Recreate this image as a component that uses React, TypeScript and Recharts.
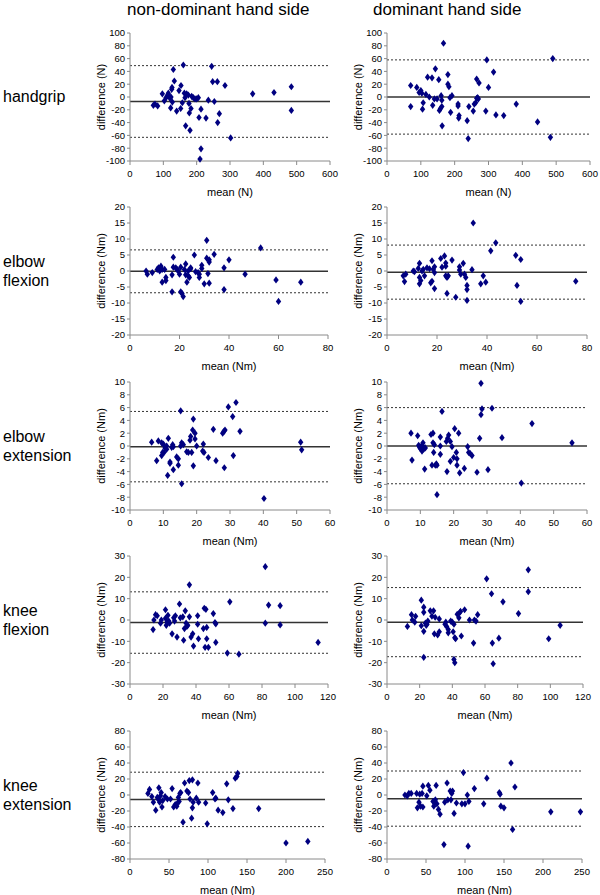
import React from 'react';
import { ScatterChart, Scatter, XAxis, YAxis, ReferenceLine } from 'recharts';

// [mean, difference] pairs
const handgripNonDom = [
  [70, -13], [75, -11], [83, -14], [97, 5], [103, -6], [108, -1], [112, 2], [115, 6], [118, 1], [120, -2],
  [123, 0], [122, -17], [125, 12], [126, 15], [127, -8], [130, 43], [133, 25], [140, -22], [147, 10], [153, 18],
  [152, -18], [157, -9], [160, 50], [163, 6], [165, -1], [167, -45], [170, 5], [175, 3], [177, -10], [178, -25],
  [180, -52], [183, -18], [185, 1], [190, -1], [195, -3], [200, -3], [205, -1], [207, -32], [210, -97], [213, -81],
  [213, -19], [228, -33], [235, -5], [245, 48], [248, 24], [253, -7], [262, 24], [263, -40], [268, -26], [285, 18],
  [302, -64], [368, 5], [432, 7], [484, 16], [484, -21],
];
const handgripDom = [
  [70, 18], [70, -15], [88, 15], [95, 7], [100, 10], [103, 6], [105, -19], [107, -9], [115, 4], [120, 31],
  [125, 0], [133, 30], [135, -13], [140, -3], [143, 44], [148, -3], [153, 27], [155, -21], [158, -18], [160, 2],
  [162, -5], [162, -15], [163, -45], [167, 84], [180, 35], [180, 20], [183, 16], [186, -1], [188, -24], [192, 2],
  [210, -11], [210, -14], [213, -29], [212, -33], [237, -37], [240, -65], [242, -15], [255, -22], [258, -11], [262, -9],
  [265, 28], [265, -2], [268, -1], [270, -3], [272, 22], [292, -22], [295, 58], [300, 15], [315, 39], [322, -28],
  [345, -29], [382, -11], [445, -39], [483, -63], [490, 60],
];
const elbowFlexNonDom = [
  [6.5, 0], [7, -1], [9, -0.5], [11, 0.5], [11.5, 1], [12, 0], [12.5, 1.5], [13, -3.5], [13, 0.5], [14, 0.5],
  [14.5, -3], [14.5, -2], [17, -6.5], [17, -1.2], [17.5, 4.3], [17.5, 1.2], [18.5, 1], [19, 0.5], [19.5, 0], [20, -1],
  [20.5, 1.2], [20.5, -6.5], [21, -7], [21.5, -8], [22, 0.5], [22.5, 2.2], [22.5, -1.2], [23, -3.5], [23.5, -1.5], [23.5, 0],
  [24, -2], [24.5, 0.7], [24.5, 1], [26, 5], [26.5, -0.2], [27.5, -0.5], [28, -2], [28, -1], [29, 1.8], [29, 0.8],
  [30, -4], [31, 9.6], [31, 4], [31.5, -0.8], [32, 3.5], [32, 2.8], [32, -3.8], [34, 5.2], [38, 1], [38, -5.8],
  [40, 3.5], [46.5, -1], [52.8, 7.2], [59, -2.8], [60, -9.5], [69, -3.5],
];
const elbowFlexDom = [
  [6.5, -1.5], [7, -3.3], [7.5, -1], [10.5, 0], [11, -0.2], [12.5, 0.8], [13, 2.4], [13, -2], [13, -4], [13.5, -3],
  [14, 0], [14.5, 0.5], [15, -1.5], [16, 1], [17, 0.7], [17.5, -3.7], [18, 3.2], [18, -3.2], [18.5, 0.5], [19, -0.5],
  [19, 1.3], [19, -5.5], [21.5, 3.9], [22, 1.2], [23, 4.7], [23.5, 2.5], [23.5, 1.5], [23.5, -1.5], [24, -7], [24, -2],
  [24.5, -1.5], [26, 3.4], [27.5, -8.2], [29, 1.3], [29, 0.3], [29.5, -1], [30.5, 2.4], [31, -1], [31.5, -2], [32, -4.5],
  [32, -5.8], [32, -9.2], [34.5, 15], [34, 0.4], [37.5, -4], [38.5, -1.5], [39.5, -3.5], [41.5, 6.3], [43.5, 8.8], [51.5, 4.9],
  [52, -4.5], [53.5, 3.6], [53.5, -9.5], [75.5, -3.2],
];
const elbowExtNonDom = [
  [6.5, 0.6], [8, -2.3], [8.5, 0.8], [9.5, 0.5], [9.5, -1.5], [9.8, -1], [10, 0.3], [10.2, -1], [10.5, -0.3], [11, 0],
  [11, -0.5], [11.3, -4.6], [11.5, 1.2], [12, -2.5], [12, -2.7], [12.5, -0.2], [12.8, 0.2], [13, -3.7], [13, -0.1], [14, -1.7],
  [14.5, -2], [14.5, -3], [15.2, 5.5], [15.2, 0], [15.5, 0.5], [15.5, -5.9], [16, 0.2], [17, -0.9], [17.5, -1], [18, 0.9],
  [18.2, 1.5], [18.5, -1], [18.8, 2.5], [19, 4.2], [19, -3.1], [19.5, 2], [19.5, 1.1], [20, 0], [21.8, -0.8], [22, 0.3],
  [22.2, -1], [23.5, -1.8], [25, 2.6], [25.8, -2.3], [27.8, 2], [28.2, 2.3], [28.5, 2.5], [28.3, -3.4], [29.5, 6.1], [30.8, 4.6],
  [31, -1.5], [31.8, 6.8], [33, 2.3], [40.2, -8.2], [51.2, 0.6], [51.5, -0.6],
];
const elbowExtDom = [
  [7.2, 2], [7.5, -2.2], [9.2, 1.6], [9.5, 0.1], [9.8, -0.2], [10, -0.4], [10.3, 0], [10.5, -0.8], [10.8, 0.5], [11, -0.5],
  [11, -0.2], [11.3, -3.6], [11.5, -0.3], [13.2, 1.8], [13.5, -3], [13.8, 2], [13.8, 0.5], [14, -1], [14.2, 0.2], [14.5, -3],
  [14.8, -2.8], [15, -7.6], [15, -3], [16, 1.4], [16, 0], [16, -1.3], [16.5, 5.4], [17.8, 0.7], [18, -4], [18.2, 1.2],
  [18.5, 1.7], [19, 0.7], [19, -2.4], [19.5, -0.1], [20, -1.8], [20.3, 2.7], [20.8, -1], [21, -2], [21, -3], [21.5, 2],
  [21.8, -4.2], [23.2, -3.5], [24.2, -0.1], [24.5, -1], [25, -1.2], [25.5, -1.5], [27, -4.1], [27.8, 1.2], [28.2, 9.8], [28.2, 4.9],
  [28.5, 5.8], [30.3, -3.7], [31.5, 5.9], [34.5, 1.3], [40.3, -5.8], [43.5, 3.5], [55.5, 0.5],
];
const kneeFlexNonDom = [
  [14, -4.5], [14.5, 0], [15.5, 2.5], [16.5, 2], [18.5, -1.5], [19, 0], [21.5, 4.8], [21.5, 0.8], [22, -2.5], [22.5, -1],
  [23, 2.2], [23.5, -0.5], [24, -1.5], [25.5, -6.5], [26.5, 1], [27, -0.5], [27.5, 2], [28.5, -8], [30, 7.5], [30.5, 1],
  [32, 1.5], [32.5, -9.5], [33, -4], [33.5, 4.3], [34, -1.5], [34.5, -3], [35, -2.5], [36, 16.5], [36, 1.5], [37, -8],
  [38, -6.5], [38.5, -12.2], [41, 2], [41, -2], [41.5, -8.8], [44.5, -4], [45, 5.5], [45.5, -12.8], [46, 5], [46.5, -3.5],
  [46.5, -8.8], [47.5, -12.8], [50.5, 3], [51.5, -1.2], [52, -1.8], [52, -10.5], [59, -15.5], [60.5, 8.5], [66, -16], [82, 25],
  [82, -1.5], [84, 7], [91, 6.7], [91, -2.3], [114, -10.5],
];
const kneeFlexDom = [
  [12.5, -3], [15, 2.5], [15.5, 0], [17, -1], [17.5, 1.7], [21, 9.3], [21, -2.7], [22.5, -5.3], [22.5, 6], [22.5, 3.6],
  [22.5, -17.5], [23.5, -1.5], [24, -2.5], [24.5, -2], [25, -0.5], [26.5, 4.3], [27.5, 1.8], [28.5, 4.3], [29, -6.5], [29.5, 1.3],
  [31, -7], [32, -5.5], [32, 0.5], [35.5, -2], [36, -1], [36.5, -3], [37.5, -4.5], [37.5, -6], [39, -0.5], [40, -1],
  [40.5, -5.5], [41, -18.5], [41, -2], [41.5, -20], [41.5, -8.3], [42, -8.8], [43, 2.7], [44, 1], [44.5, 3.5], [45, 4],
  [45.5, -7.5], [47.5, 4.8], [50.5, 0], [53, -10.8], [53.5, 0], [54.5, -0.5], [55.5, 2.5], [61, 19.3], [64, 12.3], [64.5, -10.8],
  [65, -20.5], [68.5, -8.5], [71, 8.5], [80.5, 3], [86.5, 23.5], [86.5, 13.3], [99, -8.8], [106, -2.5],
];
const kneeExtNonDom = [
  [23, 2], [25, 7], [28, -2], [30, -9], [33, -19], [35, -3], [36, -5], [37, 9], [38, -9], [39, -1],
  [40, 3], [41, -15], [42, -7], [45, -2], [48, -5], [52, -5], [54, 8], [56, -15], [58, -12], [60, -14],
  [61, -10], [62, -3], [63, -8], [64, 2], [65, 3], [68, -34], [70, 15], [73, 5], [75, 3], [76, 18],
  [77, -5], [79, -29], [80, -16], [80, 19], [81, -9], [85, -4], [87, 15], [88, -9], [97, -10], [99, -36],
  [106, 3], [109, -5], [110, -4], [113, -19], [119, -22], [124, 14], [126, -6], [132, -17], [135, 21], [137, 23],
  [138, 27], [165, -17], [200, -60], [228, -58],
];
const kneeExtDom = [
  [23, 0], [26, -1], [28, 2], [31, 2], [38, 2], [39, -16], [41, -9], [42, 1], [43, -14], [45, 2],
  [46, -15], [46, 11], [51, -1], [53, 12], [55, 6], [59, -8], [60, -14], [61, -9], [62, -6], [63, 12],
  [64, -11], [66, -18], [68, -24], [73, -62], [74, -9], [77, 15], [78, -6], [81, 5], [82, -6], [83, 2],
  [84, 5], [86, -23], [89, -10], [96, -11], [98, 28], [100, -11], [103, 0], [104, -64], [105, -8], [112, 8],
  [124, -11], [128, 21], [144, 3], [145, 1], [146, -14], [150, -16], [159, 40], [161, -43], [164, 10], [210, -21],
  [248, -21],
];

// bias and limits of agreement, one per panel (row by row, non-dominant first)
const meanLines = [-7, 0, -0.1, -0.4, -0.1, 0, -1.2, -1, -5.5, -4.6];
const upperLines = [49, 58, 6.6, 8.1, 5.4, 6, 13.2, 15.2, 28.5, 30];
const lowerLines = [-63, -58, -6.8, -8.8, -5.6, -5.9, -15.6, -17.2, -39.5, -39];

const xTicksGrip = [0, 100, 200, 300, 400, 500, 600];
const yTicksGrip = [-100, -80, -60, -40, -20, 0, 20, 40, 60, 80, 100];
const xTicksElbowFlex = [0, 20, 40, 60, 80];
const yTicksElbowFlex = [-20, -15, -10, -5, 0, 5, 10, 15, 20];
const xTicksElbowExt = [0, 10, 20, 30, 40, 50, 60];
const yTicksElbowExt = [-10, -8, -6, -4, -2, 0, 2, 4, 6, 8, 10];
const xTicksKneeFlex = [0, 20, 40, 60, 80, 100, 120];
const yTicksKneeFlex = [-30, -20, -10, 0, 10, 20, 30];
const xTicksKneeExt = [0, 50, 100, 150, 200, 250];
const yTicksKneeExt = [-80, -60, -40, -20, 0, 20, 40, 60, 80];

const rowLabels = [['handgrip'], ['elbow', 'flexion'], ['elbow', 'extension'], ['knee', 'flexion'], ['knee', 'extension']];
const columnLabels = ['non-dominant hand side', 'dominant hand side'];

const FONT = '"Liberation Sans", Arial, Helvetica, sans-serif';
const PLOT_H = 128;
const rowTops = [32.5, 206.5, 381.5, 556, 731];

const toPts = (a: number[][]) => a.map(([x, y]) => ({ x, y }));

// small navy diamond, like the Excel marker
const Diamond = (props: any) => {
  const { cx, cy } = props;
  if (cx == null || cy == null) return null;
  return <path d={`M${cx},${cy - 3.6}L${cx + 2.7},${cy}L${cx},${cy + 3.6}L${cx - 2.7},${cy}Z`} fill="#000080" />;
};

function Panel({ data, left, top, width, xTicks, yTicks, unit, idx }: any) {
  const axisColor = '#8a8a8a';
  return (
    <div style={{ position: 'absolute', left: left - 60, top: top - 8 }}>
      <ScatterChart width={width + 75} height={PLOT_H + 48} margin={{ top: 8, right: 15, bottom: 0, left: 0 }}>
        <XAxis
          type="number"
          dataKey="x"
          domain={[xTicks[0], xTicks[xTicks.length - 1]]}
          ticks={xTicks}
          interval={0}
          height={40}
          tickSize={4}
          tickMargin={5}
          stroke={axisColor}
          tick={{ fill: '#000', fontSize: 9.5 }}
          label={{ value: `mean (${unit})`, position: 'insideBottom', offset: 5, fill: '#000', fontSize: 11 }}
        />
        <YAxis
          type="number"
          dataKey="y"
          domain={[yTicks[0], yTicks[yTicks.length - 1]]}
          ticks={yTicks}
          interval={0}
          width={60}
          tickSize={3}
          tickMargin={2}
          stroke={axisColor}
          tick={{ fill: '#000', fontSize: 9.5 }}
          label={{ value: `difference (${unit})`, angle: -90, position: 'insideLeft', offset: 31, fill: '#000', fontSize: 11, style: { textAnchor: 'middle' } }}
        />
        <ReferenceLine y={upperLines[idx]} stroke="#333" strokeDasharray="2 2" />
        <ReferenceLine y={lowerLines[idx]} stroke="#333" strokeDasharray="2 2" />
        <ReferenceLine y={meanLines[idx]} stroke="#333" strokeWidth={1.5} />
        <Scatter data={toPts(data)} fill="#000080" shape={Diamond} isAnimationActive={false} />
      </ScatterChart>
    </div>
  );
}

const panels = [
  { data: handgripNonDom, left: 129.5, width: 200, xTicks: xTicksGrip, yTicks: yTicksGrip, unit: 'N' },
  { data: handgripDom, left: 386.5, width: 203, xTicks: xTicksGrip, yTicks: yTicksGrip, unit: 'N' },
  { data: elbowFlexNonDom, left: 129.5, width: 198, xTicks: xTicksElbowFlex, yTicks: yTicksElbowFlex, unit: 'Nm' },
  { data: elbowFlexDom, left: 386.5, width: 200, xTicks: xTicksElbowFlex, yTicks: yTicksElbowFlex, unit: 'Nm' },
  { data: elbowExtNonDom, left: 129.5, width: 200, xTicks: xTicksElbowExt, yTicks: yTicksElbowExt, unit: 'Nm' },
  { data: elbowExtDom, left: 386.5, width: 200, xTicks: xTicksElbowExt, yTicks: yTicksElbowExt, unit: 'Nm' },
  { data: kneeFlexNonDom, left: 129.5, width: 198, xTicks: xTicksKneeFlex, yTicks: yTicksKneeFlex, unit: 'Nm' },
  { data: kneeFlexDom, left: 386.5, width: 196, xTicks: xTicksKneeFlex, yTicks: yTicksKneeFlex, unit: 'Nm' },
  { data: kneeExtNonDom, left: 129.5, width: 195, xTicks: xTicksKneeExt, yTicks: yTicksKneeExt, unit: 'Nm' },
  { data: kneeExtDom, left: 386.5, width: 195, xTicks: xTicksKneeExt, yTicks: yTicksKneeExt, unit: 'Nm' },
];

export default function App() {
  return (
    <div style={{ position: 'absolute', left: 0, top: 0, width: 600, height: 895, background: '#fff', fontFamily: FONT, overflow: 'hidden' }}>
      <div style={{ position: 'absolute', left: 127, top: 0, fontSize: 17, lineHeight: '19px', whiteSpace: 'nowrap' }}>{columnLabels[0]}</div>
      <div style={{ position: 'absolute', left: 373, top: 0, fontSize: 17, lineHeight: '19px', whiteSpace: 'nowrap' }}>{columnLabels[1]}</div>
      {rowLabels.map((lines, i) => (
        <div
          key={i}
          style={{ position: 'absolute', left: 3, top: rowTops[i] + PLOT_H / 2 - (lines.length * 19) / 2, fontSize: 16, lineHeight: '19px' }}
        >
          {lines.map((l) => (
            <div key={l}>{l}</div>
          ))}
        </div>
      ))}
      {panels.map((p, i) => (
        <Panel key={i} idx={i} top={rowTops[Math.floor(i / 2)]} {...p} />
      ))}
    </div>
  );
}
